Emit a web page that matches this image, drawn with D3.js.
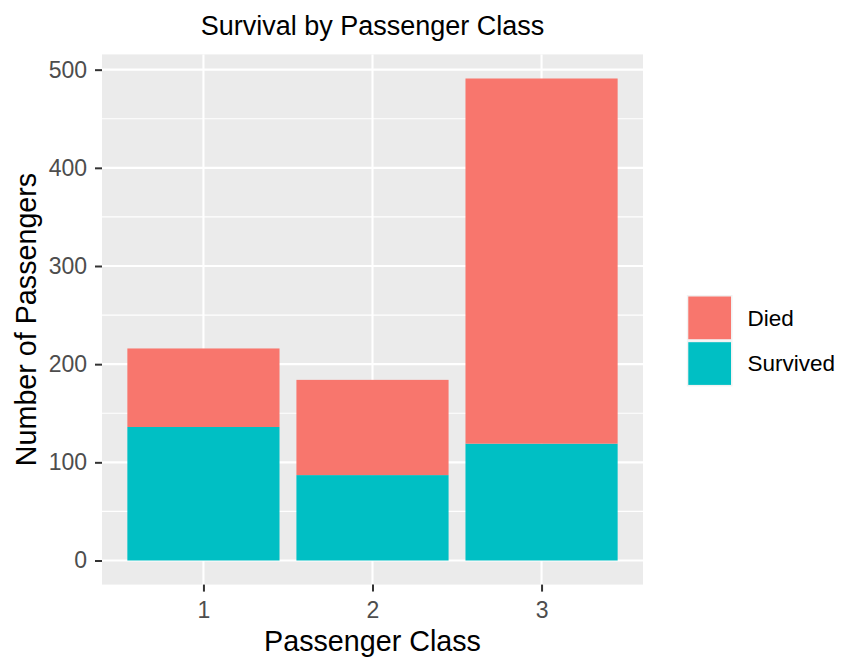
<!DOCTYPE html>
<html><head><meta charset="utf-8">
<script src="https://cdn.jsdelivr.net/npm/d3@7"></script>
<style>body{margin:0;background:#fff}svg{display:block}text{font-family:"Liberation Sans",Arial,sans-serif}</style>
</head><body>
<svg id="c" width="864" height="672"></svg>
<script>
const classes = ["1","2","3"];
const survived = [136, 87, 119];
const died = [80, 97, 372];
const yTicks = [0,100,200,300,400,500];
const yMinor = [50,150,250,350,450];
const seriesNames = ["Died","Survived"];
const seriesColors = ["#F8766D","#00BFC4"];

const svg = d3.select("#c");
const L=102, R=643, T=54.4, B=584.6;
const totals = classes.map((c,i)=>survived[i]+died[i]);
const maxT = d3.max(totals);
const y = d3.scaleLinear().domain([-0.05*maxT, maxT*1.05]).range([B,T]);
const x = d3.scalePoint().domain(classes).range([L,R]).padding(0.6);
const step = x.step();
const bw = step*0.9;

svg.append("rect").attr("x",L).attr("y",T).attr("width",R-L).attr("height",B-T).attr("fill","#EBEBEB");
const g = svg.append("g");
yMinor.forEach(v=>g.append("line").attr("x1",L).attr("x2",R).attr("y1",y(v)).attr("y2",y(v)).attr("stroke","#fff").attr("stroke-width",1.1));
yTicks.forEach(v=>g.append("line").attr("x1",L).attr("x2",R).attr("y1",y(v)).attr("y2",y(v)).attr("stroke","#fff").attr("stroke-width",2.1));
classes.forEach(c=>g.append("line").attr("x1",x(c)).attr("x2",x(c)).attr("y1",T).attr("y2",B).attr("stroke","#fff").attr("stroke-width",2.1));

// bars
classes.forEach((c,i)=>{
  g.append("rect").attr("x",x(c)-bw/2).attr("width",bw).attr("y",y(survived[i])).attr("height",y(0)-y(survived[i])).attr("fill",seriesColors[1]);
  g.append("rect").attr("x",x(c)-bw/2).attr("width",bw).attr("y",y(survived[i]+died[i])).attr("height",y(survived[i])-y(survived[i]+died[i])).attr("fill",seriesColors[0]);
});

// axes
const yAxis = d3.axisLeft(y).tickValues(yTicks).tickSize(7).tickPadding(8);
const ya = svg.append("g").attr("transform",`translate(${L},0)`).call(yAxis);
ya.select(".domain").remove();
ya.selectAll("line").attr("stroke","#333").attr("stroke-width",2);
ya.selectAll("text").attr("fill","#4D4D4D").style("font-size","23px");

const xAxis = d3.axisBottom(x).tickSize(7).tickPadding(10);
const xa = svg.append("g").attr("transform",`translate(0,${B})`).call(xAxis);
xa.select(".domain").remove();
xa.selectAll("line").attr("stroke","#333").attr("stroke-width",2);
xa.selectAll("text").attr("fill","#4D4D4D").style("font-size","23px");

// titles
svg.append("text").attr("x",(L+R)/2).attr("y",35).attr("text-anchor","middle").style("font-size","27px").attr("fill","#000").text("Survival by Passenger Class");
svg.append("text").attr("x",(L+R)/2).attr("y",651).attr("text-anchor","middle").style("font-size","28.7px").attr("fill","#000").text("Passenger Class");
svg.append("text").attr("transform",`translate(36,${(T+B)/2}) rotate(-90)`).attr("text-anchor","middle").style("font-size","28.7px").attr("fill","#000").text("Number of Passengers");

// legend
const lg = svg.append("g");
const kx=686.8, ky=295, ks=45.7;
seriesNames.forEach((n,i)=>{
  lg.append("rect").attr("x",kx).attr("y",ky+i*ks).attr("width",ks).attr("height",ks).attr("fill","#F2F2F2");
  lg.append("rect").attr("x",kx+1.5).attr("y",ky+i*ks+1.5).attr("width",ks-3).attr("height",ks-3).attr("fill",seriesColors[i]);
  lg.append("text").attr("x",747.5).attr("y",ky+i*ks+ks/2).attr("dy","0.35em").style("font-size","22.5px").attr("fill","#000").text(n);
});
</script>
</body></html>
